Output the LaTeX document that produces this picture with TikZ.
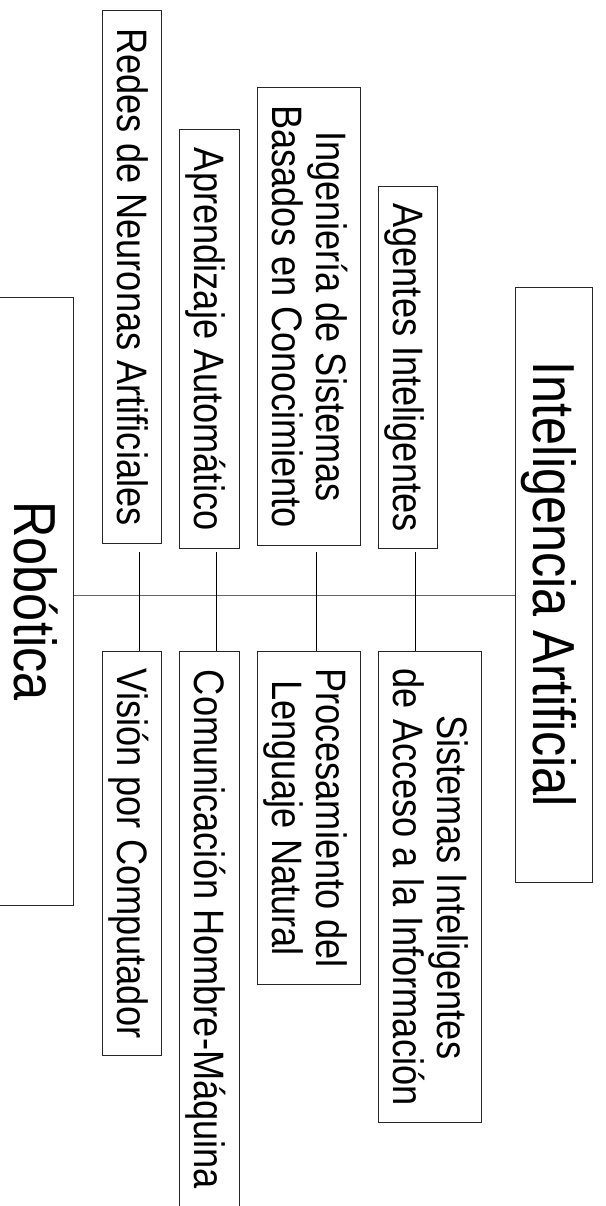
\documentclass[tikz,border=0pt]{standalone}
\usepackage{fontspec}
\usepackage{tikz}
\newfontfamily\temafont{Liberation Sans}[FakeStretch=0.85]
\newcommand{\dosl}[2]{\vbox{\halign{\hfil##\hfil\cr #1\cr #2\cr}}}
\tikzset{
	caja/.style={draw=black!85, line width=1pt, rotate=-90, inner sep=0pt,
		font=\temafont\fontsize{42.6}{44}\selectfont,
		text height=29.3pt, text depth=0pt, minimum height=59.3pt},
	doble/.style={text height=73.3pt, minimum height=103pt},
	grande/.style={font=\temafont\fontsize{59.3}{62}\selectfont,
		text height=40.8pt, minimum height=76.6pt},
}

\begin{document}
\begin{tikzpicture}[x=1pt,y=-1pt]
			\useasboundingbox (0,0) rectangle (605,1206);
			% Nodes
			\node[caja, grande, minimum width=608pt] (robotica) at (35,601) {Robótica};
			\node[caja, grande, minimum width=595pt] (ia) at (554,584.5) {Inteligencia Artificial};
			\node[caja, anchor=east, minimum width=533.6pt] (redes) at (132,544.3) {Redes de Neuronas Artificiales};
			\node[caja, anchor=east, minimum width=418.6pt] (aprendizaje) at (209.35,549) {Aprendizaje Automático};
			\node[caja, doble, anchor=east, minimum width=457.7pt] (ingenieria) at (308.8,546) {\dosl{Ingeniería de Sistemas}{Basados en Conocimiento}};
			\node[caja, anchor=east, minimum width=361.4pt, minimum height=58.6pt] (agentes) at (408,548.7) {Agentes Inteligentes};
			\node[caja, anchor=west, minimum width=404pt] (vision) at (132,651) {Visión por Computador};
			\node[caja, anchor=west, minimum width=556pt] (comunicacion) at (209.35,651) {Comunicación Hombre-Máquina};
			\node[caja, doble, anchor=west, minimum width=333pt] (procesamiento) at (308.8,651) {\dosl{Procesamiento del}{Lenguaje Natural}};
			\node[caja, doble, anchor=west, minimum width=471.3pt] (sistemas) at (430.2,651) {\dosl{Sistemas Inteligentes}{de Acceso a la Información}};
			% Lines
			\coordinate (eje) at (0,595.7);
			\draw[line width=1pt, black!60] (eje -| robotica.north) -- (eje -| ia.south);
			\foreach \i/\x/\b in {1/139.3/vision, 2/216.7/comunicacion, 3/316/procesamiento, 4/415.3/sistemas} {
				\coordinate (top\i) at (\x,552);
				\draw[line width=1pt] (top\i) -- (top\i |- \b.west);
			}
		\end{tikzpicture}
\end{document}
